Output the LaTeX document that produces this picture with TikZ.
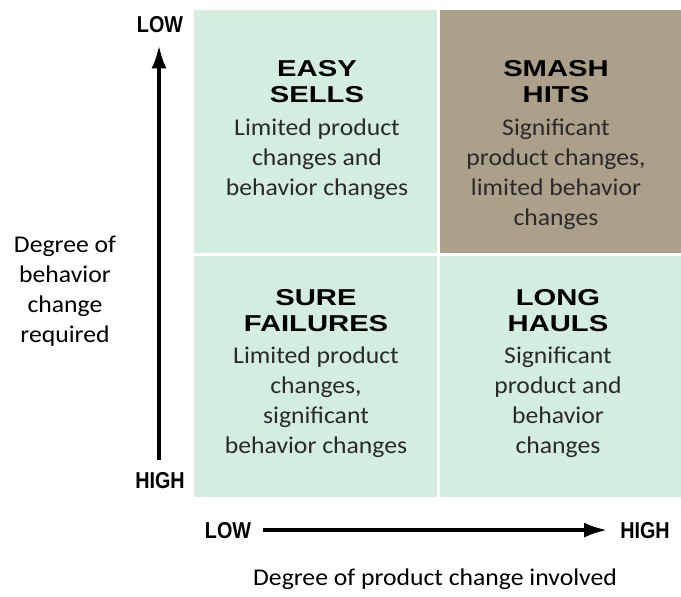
\documentclass[tikz,border=0pt]{standalone}
\usepackage{fontspec}
\setmainfont[FakeStretch=1.07]{Carlito}
\newfontfamily\titlefont[FakeStretch=1.27]{Liberation Sans}
\newfontfamily\axisfont[FakeStretch=0.86]{Liberation Sans}
\usepackage{tikz}
\usetikzlibrary{positioning,arrows.meta}
\usepackage{xcolor}
\definecolor{cellgreen}{HTML}{D3EDDF}
\definecolor{cellbrown}{HTML}{ADA08B}
\definecolor{inktext}{HTML}{2A2A2A}

\begin{document}
\begin{tikzpicture}[x=1pt,y=-1pt,
  title/.style={anchor=north, inner sep=0pt, align=center, text=black,
    font=\titlefont\bfseries\fontsize{23}{26.5}\selectfont},
  body/.style={anchor=north, inner sep=0pt, align=center, text=inktext,
    font=\fontsize{24}{29.8}\selectfont},
  axislbl/.style={inner sep=0pt, text=black,
    font=\axisfont\bfseries\fontsize{23}{26}\selectfont},
  axisline/.style={line width=4.5pt, black, shorten <=12pt, shorten >=12pt,
    -{Latex[length=24pt,width=15pt]}}]
\useasboundingbox (0,0) rectangle (681,597);

% quadrants
\fill[cellgreen] (194,10) rectangle (437,253);
\fill[cellbrown] (440,10) rectangle (681,253);
\fill[cellgreen] (194,256) rectangle (437,497);
\fill[cellgreen] (440,256) rectangle (681,497);

% quadrant texts
\node[title] (easyT) at (317,60) {EASY\\SELLS};
\node[body] (easyB) at (317,119) {Limited product\\changes and\\behavior changes};
\node[title] (smashT) at (556,60) {SMASH\\HITS};
\node[body] (smashB) at (556,119) {Significant\\product changes,\\limited behavior\\changes};
\node[title] (sureT) at (316,289) {SURE\\FAILURES};
\node[body] (sureB) at (316,347) {Limited product\\changes,\\significant\\behavior changes};
\node[title] (longT) at (558,289) {LONG\\HAULS};
\node[body] (longB) at (558,347) {Significant\\product and\\behavior\\changes};

% axes
\node[axislbl, anchor=base] (vlow) at (160,32) {LOW};
\node[axislbl, anchor=base] (vhigh) at (160,488) {HIGH};
\node[axislbl, anchor=base] (hlow) at (228,538) {LOW};
\node[axislbl, anchor=base] (hhigh) at (645,538) {HIGH};
\draw[axisline] (vhigh.north -| 159,0) -- (vlow.south -| 159,0);
\draw[axisline] (hlow.east) -- (hhigh.west);

% axis captions
\node[body, text=black] (vcap) at (65,236) {Degree of\\behavior\\change\\required};
\node[body, anchor=base, text=black] (hcap) at (435,585) {Degree of product change involved};
\end{tikzpicture}
\end{document}
